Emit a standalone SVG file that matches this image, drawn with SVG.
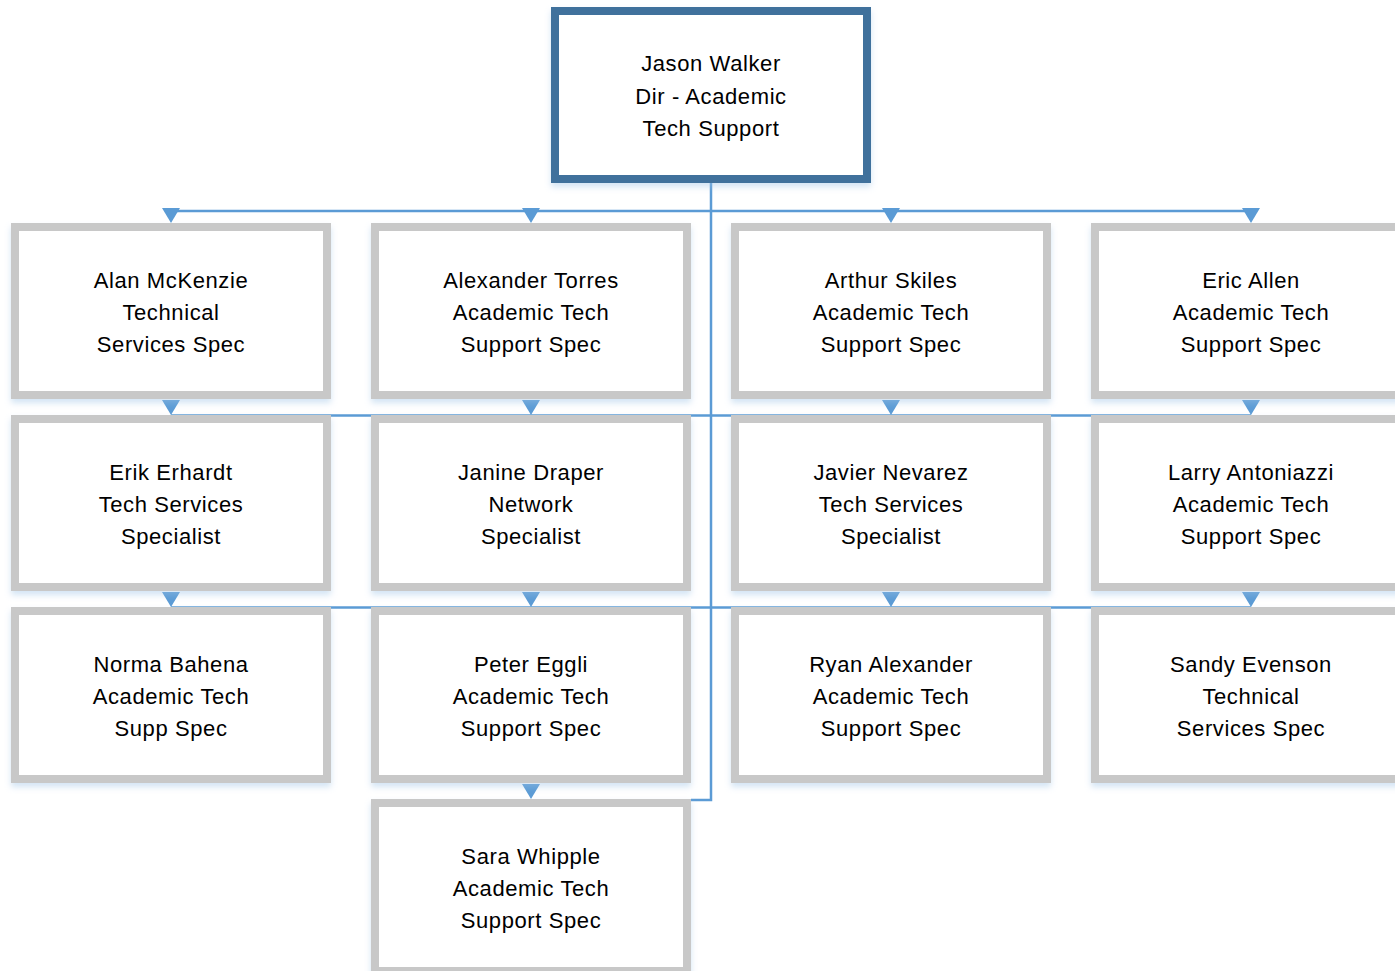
<svg xmlns="http://www.w3.org/2000/svg" xmlns:xlink="http://www.w3.org/1999/xlink" width="1395" height="971" viewBox="0 0 1395 971">
<style>
.box{fill:#fff;stroke:#c8c8c8;stroke-width:8;filter:url(#sh)}
.top{fill:#fff;stroke:#41719c;stroke-width:8;filter:url(#sh)}
.t{font-family:"Liberation Sans",Arial,sans-serif;font-size:22px;fill:#000;text-anchor:middle;letter-spacing:0.6px}
.c{fill:none;stroke:#5b9bd5;stroke-width:2.5}
.a{fill:#5b9bd5}
</style>
<defs>
<filter id="sh" x="-10%" y="-10%" width="120%" height="130%">
<feDropShadow dx="0" dy="4" stdDeviation="3" flood-color="#9dc3e6" flood-opacity="0.45"/>
</filter>
<polygon id="arr" points="-9,-15 9,-15 0,0"/>
</defs>
<rect width="1395" height="971" fill="#fff"/>
<g id="connectors">
<path class="c" d="M711 183 V800 H691"/>
<path class="c" d="M171 211 H1251"/>
<path class="c" d="M171 211 V220 M531 211 V220 M891 211 V220 M1251 211 V220"/>
<path class="c" d="M171 415.5 H1251"/>
<path class="c" d="M171 607.5 H1251"/>
<g class="a">
<use xlink:href="#arr" x="171" y="223"/><use xlink:href="#arr" x="531" y="223"/><use xlink:href="#arr" x="891" y="223"/><use xlink:href="#arr" x="1251" y="223"/>
<use xlink:href="#arr" x="171" y="415"/><use xlink:href="#arr" x="531" y="415"/><use xlink:href="#arr" x="891" y="415"/><use xlink:href="#arr" x="1251" y="415"/>
<use xlink:href="#arr" x="171" y="607"/><use xlink:href="#arr" x="531" y="607"/><use xlink:href="#arr" x="891" y="607"/><use xlink:href="#arr" x="1251" y="607"/>
<use xlink:href="#arr" x="531" y="799"/>
</g>
</g>
<g id="n0"><rect class="top" x="555" y="11" width="312" height="168"/>
<text class="t" x="711"><tspan x="711" y="71">Jason Walker</tspan><tspan x="711" y="104">Dir - Academic</tspan><tspan x="711" y="136">Tech Support</tspan></text></g>

<g id="n1"><rect class="box" x="15" y="227" width="312" height="168"/>
<text class="t"><tspan x="171" y="288">Alan McKenzie</tspan><tspan x="171" y="320">Technical</tspan><tspan x="171" y="352">Services Spec</tspan></text></g>
<g id="n2"><rect class="box" x="375" y="227" width="312" height="168"/>
<text class="t"><tspan x="531" y="288">Alexander Torres</tspan><tspan x="531" y="320">Academic Tech</tspan><tspan x="531" y="352">Support Spec</tspan></text></g>
<g id="n3"><rect class="box" x="735" y="227" width="312" height="168"/>
<text class="t"><tspan x="891" y="288">Arthur Skiles</tspan><tspan x="891" y="320">Academic Tech</tspan><tspan x="891" y="352">Support Spec</tspan></text></g>
<g id="n4"><rect class="box" x="1095" y="227" width="312" height="168"/>
<text class="t"><tspan x="1251" y="288">Eric Allen</tspan><tspan x="1251" y="320">Academic Tech</tspan><tspan x="1251" y="352">Support Spec</tspan></text></g>

<g id="n5"><rect class="box" x="15" y="419" width="312" height="168"/>
<text class="t"><tspan x="171" y="480">Erik Erhardt</tspan><tspan x="171" y="512">Tech Services</tspan><tspan x="171" y="544">Specialist</tspan></text></g>
<g id="n6"><rect class="box" x="375" y="419" width="312" height="168"/>
<text class="t"><tspan x="531" y="480">Janine Draper</tspan><tspan x="531" y="512">Network</tspan><tspan x="531" y="544">Specialist</tspan></text></g>
<g id="n7"><rect class="box" x="735" y="419" width="312" height="168"/>
<text class="t"><tspan x="891" y="480">Javier Nevarez</tspan><tspan x="891" y="512">Tech Services</tspan><tspan x="891" y="544">Specialist</tspan></text></g>
<g id="n8"><rect class="box" x="1095" y="419" width="312" height="168"/>
<text class="t"><tspan x="1251" y="480">Larry Antoniazzi</tspan><tspan x="1251" y="512">Academic Tech</tspan><tspan x="1251" y="544">Support Spec</tspan></text></g>

<g id="n9"><rect class="box" x="15" y="611" width="312" height="168"/>
<text class="t"><tspan x="171" y="672">Norma Bahena</tspan><tspan x="171" y="704">Academic Tech</tspan><tspan x="171" y="736">Supp Spec</tspan></text></g>
<g id="n10"><rect class="box" x="375" y="611" width="312" height="168"/>
<text class="t"><tspan x="531" y="672">Peter Eggli</tspan><tspan x="531" y="704">Academic Tech</tspan><tspan x="531" y="736">Support Spec</tspan></text></g>
<g id="n11"><rect class="box" x="735" y="611" width="312" height="168"/>
<text class="t"><tspan x="891" y="672">Ryan Alexander</tspan><tspan x="891" y="704">Academic Tech</tspan><tspan x="891" y="736">Support Spec</tspan></text></g>
<g id="n12"><rect class="box" x="1095" y="611" width="312" height="168"/>
<text class="t"><tspan x="1251" y="672">Sandy Evenson</tspan><tspan x="1251" y="704">Technical</tspan><tspan x="1251" y="736">Services Spec</tspan></text></g>

<g id="n13"><rect class="box" x="375" y="803" width="312" height="168"/>
<text class="t"><tspan x="531" y="864">Sara Whipple</tspan><tspan x="531" y="896">Academic Tech</tspan><tspan x="531" y="928">Support Spec</tspan></text></g>
</svg>
